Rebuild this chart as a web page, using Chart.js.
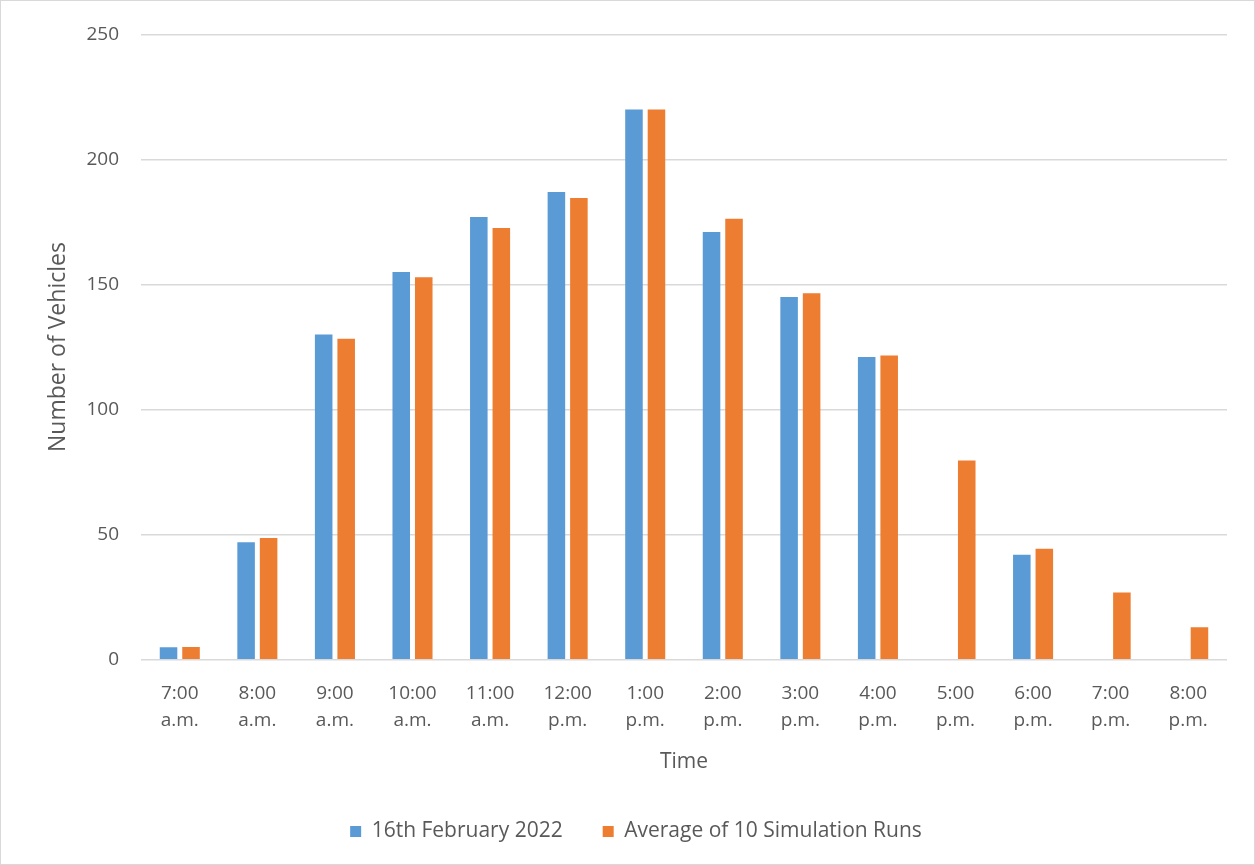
<!DOCTYPE html>
<html>
<head>
<meta charset="utf-8">
<script src="https://cdn.jsdelivr.net/npm/chart.js@4"></script>
<style>
  html, body { margin: 0; padding: 0; background: #fff; }
  #wrap { position: absolute; left: 0; top: 0; width: 1253px; height: 863px; border: 1px solid #d9d9d9; }
</style>
</head>
<body>
<div id="wrap"><canvas id="barChart" width="1253" height="863"></canvas></div>
<script>
const hours = ['7:00', '8:00', '9:00', '10:00', '11:00', '12:00', '1:00', '2:00', '3:00', '4:00', '5:00', '6:00', '7:00', '8:00'];
const periods = ['a.m.', 'a.m.', 'a.m.', 'a.m.', 'a.m.', 'p.m.', 'p.m.', 'p.m.', 'p.m.', 'p.m.', 'p.m.', 'p.m.', 'p.m.', 'p.m.'];
const observed = [5, 47, 130, 155, 177, 187, 220, 171, 145, 121, null, 42, null, null];
const simulated = [5.1, 48.7, 128.3, 152.9, 172.6, 184.6, 220, 176.3, 146.5, 121.6, 79.6, 44.4, 26.9, 13];
const yTicks = [0, 50, 100, 150, 200, 250];

const labels = hours.map((h, i) => [h, periods[i]]);
const font = 'Open Sans, Liberation Sans, sans-serif';
const grey = '#595959';

const ctx = document.getElementById('barChart').getContext('2d');

new Chart(ctx, {
    type: 'bar',
    data: {
        labels: labels,
        datasets: [{
            label: '16th February 2022',
            data: observed,
            backgroundColor: '#5B9BD5'
        }, {
            label: 'Average of 10 Simulation Runs',
            data: simulated,
            backgroundColor: '#ED7D31'
        }]
    },
    options: {
        responsive: false,
        animation: false,
        categoryPercentage: 0.58,
        barPercentage: 0.78,
        layout: { padding: { top: 15, right: 27, bottom: 12, left: 44 } },
        plugins: {
            tooltip: { enabled: false },
            legend: {
                position: 'bottom',
                labels: {
                    color: grey,
                    font: { family: font, size: 21 },
                    boxWidth: 11,
                    boxHeight: 11,
                    padding: 40
                }
            }
        },
        scales: {
            x: {
                grid: { display: false },
                border: { display: false },
                ticks: {
                    color: grey,
                    font: { family: font, size: 19, lineHeight: 1.45 },
                    maxRotation: 0,
                    autoSkip: false,
                    padding: 12
                },
                title: {
                    display: true,
                    text: 'Time',
                    color: grey,
                    font: { family: font, size: 21 },
                    padding: { top: 3, bottom: 6 }
                }
            },
            y: {
                min: 0,
                max: 250,
                afterBuildTicks: (scale) => { scale.ticks = yTicks.map(v => ({ value: v })); },
                afterFit: (scale) => { scale.width = 96; },
                grid: { color: '#d9d9d9', lineWidth: 1.5, drawTicks: false },
                border: { display: false },
                ticks: {
                    color: grey,
                    font: { family: font, size: 19 },
                    padding: 22
                },
                title: {
                    display: true,
                    text: 'Number of Vehicles',
                    color: grey,
                    font: { family: font, size: 23 },
                    padding: { top: 0, bottom: 0 }
                }
            }
        }
    }
});
</script>
</body>
</html>
